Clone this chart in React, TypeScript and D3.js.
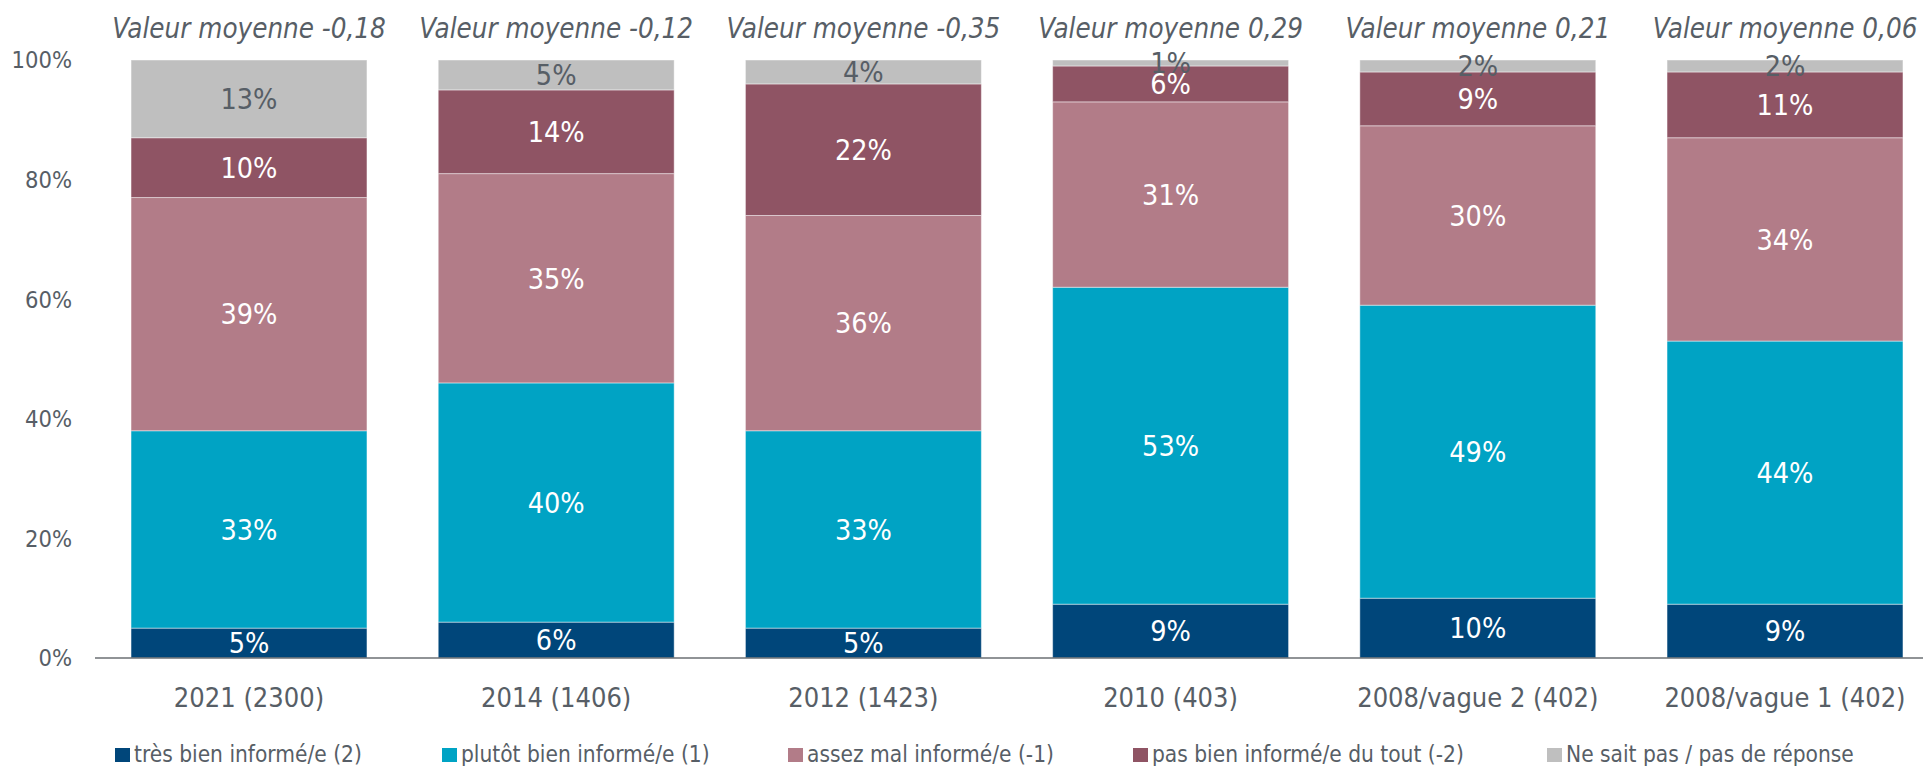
import React from "react";
import * as d3 from "d3";

// survey waves (x axis)
const categories = [
  "2021 (2300)",
  "2014 (1406)",
  "2012 (1423)",
  "2010 (403)",
  "2008/vague 2 (402)",
  "2008/vague 1 (402)",
];
const meanValues = ["-0,18", "-0,12", "-0,35", "0,29", "0,21", "0,06"];

const seriesNames = [
  "très bien informé/e (2)",
  "plutôt bien informé/e (1)",
  "assez mal informé/e (-1)",
  "pas bien informé/e du tout (-2)",
  "Ne sait pas / pas de réponse",
];
const tresBien = [5, 6, 5, 9, 10, 9];
const plutotBien = [33, 40, 33, 53, 49, 44];
const assezMal = [39, 35, 36, 31, 30, 34];
const pasBien = [10, 14, 22, 6, 9, 11];
const nePasSavoir = [13, 5, 4, 1, 2, 2];

const yTicks = [0, 20, 40, 60, 80, 100];

const colors = ["#00467A", "#00A3C4", "#B27C88", "#8F5464", "#BFBFBF"];
const labelColors = ["#FFFFFF", "#FFFFFF", "#FFFFFF", "#FFFFFF", "#575E66"];
const textColor = "#575E66";
const font = "'DejaVu Sans Condensed', 'DejaVu Sans', sans-serif";

// legend swatch positions
const legendX = [115, 442, 788, 1133, 1547];

const W = 1923;
const H = 766;

export default function App() {
  const keys = ["s0", "s1", "s2", "s3", "s4"];
  const seriesValues = [tresBien, plutotBien, assezMal, pasBien, nePasSavoir];
  const rows = categories.map((c, i) => {
    const r: any = { cat: c };
    keys.forEach((k, j) => (r[k] = seriesValues[j][i]));
    return r;
  });
  const stacked = d3.stack<any>().keys(keys)(rows);

  const x = d3
    .scaleBand()
    .domain(categories)
    .range([95.4, 1938.6])
    .paddingInner(0.232)
    .paddingOuter(0.116);
  const y = d3.scaleLinear().domain([0, 100]).range([658, 60]);

  return (
    <svg
      width={W}
      height={H}
      style={{ position: "absolute", left: 0, top: 0, background: "#fff" }}
      fontFamily={font}
      fontStretch="condensed"
    >
      {/* mean value titles */}
      {categories.map((c, i) => (
        <text
          key={"t" + c}
          x={x(c)! + x.bandwidth() / 2}
          y={38}
          textAnchor="middle"
          fontSize={27.5}
          fontStyle="italic"
          fill={textColor}
        >
          {"Valeur moyenne " + meanValues[i]}
        </text>
      ))}

      {/* y axis labels */}
      {yTicks.map((t) => (
        <text
          key={"y" + t}
          x={72}
          y={y(t)}
          dy="0.36em"
          textAnchor="end"
          fontSize={23.5}
          fill={textColor}
        >
          {t + "%"}
        </text>
      ))}

      {/* bars */}
      {stacked.map((s, si) => (
        <g key={s.key}>
          {s.map((d, i) => (
            <rect
              key={i}
              x={x(categories[i])}
              y={y(d[1])}
              width={x.bandwidth()}
              height={y(d[0]) - y(d[1])}
              fill={colors[si]}
              stroke="#ffffff"
              strokeOpacity={0.45}
              strokeWidth={1}
            />
          ))}
        </g>
      ))}

      {/* data labels */}
      {stacked.map((s, si) => (
        <g key={"l" + s.key}>
          {s.map((d, i) => (
            <text
              key={i}
              x={x(categories[i])! + x.bandwidth() / 2}
              y={y((d[0] + d[1]) / 2)}
              dy="0.36em"
              textAnchor="middle"
              fontSize={28.5}
              fill={labelColors[si]}
            >
              {d[1] - d[0] + "%"}
            </text>
          ))}
        </g>
      ))}

      {/* x axis */}
      <line x1={95} x2={W} y1={y(0)} y2={y(0)} stroke="#6B6F73" strokeWidth={1.5} />
      {categories.map((c) => (
        <text
          key={"x" + c}
          x={x(c)! + x.bandwidth() / 2}
          y={707}
          textAnchor="middle"
          fontSize={27}
          fill={textColor}
        >
          {c}
        </text>
      ))}

      {/* legend */}
      {seriesNames.map((n, i) => (
        <g key={"lg" + i}>
          <rect x={legendX[i]} y={748} width={15} height={14} fill={colors[i]} />
          <text x={legendX[i] + 19} y={762} fontSize={22.5} fill={textColor}>
            {n}
          </text>
        </g>
      ))}
    </svg>
  );
}
